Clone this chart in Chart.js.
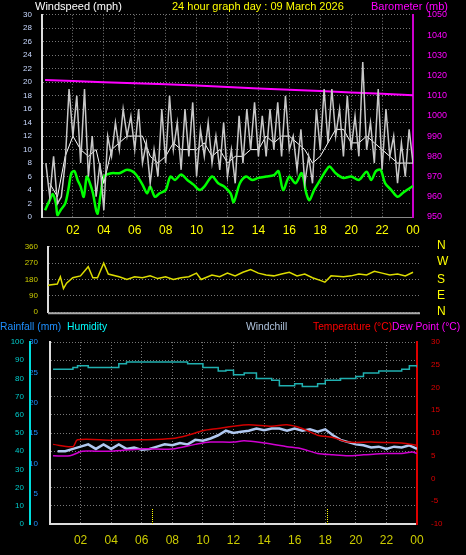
<!DOCTYPE html>
<html><head><meta charset="utf-8">
<script src="https://cdn.jsdelivr.net/npm/chart.js@4.4.1/dist/chart.umd.min.js"></script>
<style>
body{margin:0;background:#000;width:466px;height:555px;overflow:hidden;position:relative;font-family:"Liberation Sans",sans-serif}
.t{position:absolute;font-size:11px;white-space:nowrap;line-height:12px;z-index:5}
.b{font-size:10.3px}
.c{position:absolute;left:0;width:466px}
.d{position:absolute;left:437px;font-size:12px;color:#ff0;line-height:14px;z-index:5}
</style></head><body>
<div class="t" style="left:35px;top:0;color:#fff">Windspeed (mph)</div>
<div class="t" style="left:172px;top:0;color:#ff0">24 hour graph day : 09 March 2026</div>
<div class="t" style="left:371px;top:0;color:#f0f">Barometer (mb)</div>
<div class="t b" style="left:0;top:321px;color:#1e90ff">Rainfall (mm)</div>
<div class="t b" style="left:67px;top:321px;color:#0ff">Humidity</div>
<div class="t b" style="left:246px;top:321px;color:#b0c4de">Windchill</div>
<div class="t b" style="left:313px;top:321px;color:#f00">Temperature (°C)</div>
<div class="t b" style="left:392px;top:321px;color:#f0f">Dew Point (°C)</div>
<div class="d" style="top:238px">N</div>
<div class="d" style="top:254px">W</div>
<div class="d" style="top:272px">S</div>
<div class="d" style="top:288px">E</div>
<div class="d" style="top:304px">N</div>
<div class="c" style="top:0;height:245px"><canvas id="c1" width="466" height="245"></canvas></div>
<div class="c" style="top:232px;height:95px"><canvas id="c2" width="430" height="95"></canvas></div>
<div class="c" style="top:330px;height:225px"><canvas id="c3" width="466" height="225"></canvas></div>
<script>
// ---- data ----
const gustTimes = Array.from({length:96},(_,i)=>0.25*(i+1));
const gustMph = [8,3,9,2, 3,8,19,12, 18,8,19,6, 12,3,8,1, 12,9,14,10, 16,12,15,10, 16,8,11,5, 10,6,16,8,
 18,10,14,7, 16,9,17,6, 13,9,14,8, 12,7,14,6, 10,5,15,8, 16,10,17,9, 15,9,16,10, 17,9,18,10,
 12,7,13,5, 9,5,16,10, 19,11,19,12, 16,9,18,10, 15,9,23,10, 14,8,19,7, 16,9,12,5, 11,6,13,8];
const speedTimes = Array.from({length:48},(_,i)=>0.5*(i+1));
const speedMph = [5,3,9,12,10,9,10,5,10,11,12,12,12,9,8,9,11,10,10,10,11,9,10,8,9,9,10,10,12,11,12,12,11,10,8,9,11,13,13,11,11,12,11,10,9,8,8,8];
const avgTimes = [0.2,0.5,0.7,0.9,1.0,1.2,1.5,1.7,1.9,2.1,2.3,2.5,2.7,2.9,3.1,3.3,3.5,3.6,3.8,4.0,4.5,5.0,5.5,6.0,6.5,6.8,7.0,7.3,7.6,8.0,8.3,8.6,9.0,9.4,9.8,10.2,10.5,11.0,11.4,11.8,12.2,12.4,12.8,13.2,13.6,14.0,14.5,15.0,15.3,15.6,16.0,16.4,16.8,17.1,17.3,17.6,18.0,18.4,18.6,19.0,19.5,20.0,20.5,21.0,21.3,21.6,21.9,22.2,22.6,23.0,23.3,23.6,24];
const avgMph = [1,2.5,3.4,2,0.3,1,2,4,6.5,6.8,5.5,4.5,3,6,5,3.5,1,0.5,3.5,6,6.5,6.5,7,6.5,4.8,3.5,4.5,3,3.5,4,6,5.5,6.3,5.5,4.8,4,4.5,6,5,4.5,3.5,2.2,5,6,5.5,5.8,6,6.2,6.8,4,6,5,6.5,3.5,2.5,4,5.5,7,7.5,6.5,5.8,6,5.5,6.7,5.5,6.8,7,5,4,3,3.5,4,4.6];
const baroTimes = [0.2,2,4,6,8,10,12,14,16,18,20,22,24];
const baroMb = [1017.7,1017.2,1016.6,1016.1,1015.6,1015.0,1014.3,1013.6,1012.9,1012.3,1011.6,1010.9,1010.2];
const dirTimes = [0.4,0.5,1.0,1.2,1.4,1.6,2,2.5,3.0,3.3,3.6,4.0,4.3,5,5.5,6,6.5,7,7.5,8,8.5,9,9.5,10,10.3,11,11.5,12,12.5,13,13.5,14,14.5,15,15.5,16,16.5,17,17.5,18,18.3,18.7,19.5,20,20.5,21,21.5,22,22.5,23,23.5,24];
const dirDeg = [145,150,155,195,130,160,190,200,250,190,190,270,210,195,180,195,190,200,185,195,180,190,195,215,180,205,195,215,200,220,235,215,205,200,210,220,200,210,190,175,165,200,195,200,210,205,225,215,205,210,200,220];
const humTimes = [0.2,1.5,1.8,2.5,4,4.5,5,8.5,9,10,11,11.5,12,12.7,13.5,14.5,15,16,16.5,17.5,18,19,20,20.5,21.5,23,23.5,24];
const humPct = [85,86,87,86,86,88,89,89,88,86,84,84.5,82,83,80,79,76,77,75.5,77,79,80,81,83,84,85,87,86];
const tempTimes = [0.2,1.5,1.8,4,6,8,9,10,11,12,13,14.5,15.5,16.5,17.5,18.5,19.5,21,23,24];
const tempC = [7.5,7,8.5,8.4,8.5,8.8,9.5,10.5,11,11.5,11.8,11.5,11.8,11,9.5,9,8,8,7.8,7.3];
const dewTimes = [0.2,1.3,2.1,3,4,6,8,9.5,10.5,12,12.7,14,15.5,16.5,17.5,18.5,19.5,20.5,22,23,23.7,24];
const dewC = [5,5,6,6,6,6.5,6.5,7.5,8,8,8.3,7.8,7,6.5,5.5,5.2,5,5.2,5.5,5.5,5.8,5.5];
const chillTimes = Array.from({length:48},(_,i)=>0.5*(i+1));
const chillC = [6,6,6.5,7,7.5,6.5,7.5,6.5,7.5,6.5,6.8,6.3,6.5,7,7.5,7.3,7.8,7.5,8.5,8.3,8.8,9.5,10.5,10,10.3,10.5,11,10.6,11,11,10.5,11,10.5,10.8,10.3,10.8,9.5,8.5,8,7.5,7.3,6.8,7,6.5,7,6.8,7.3,6.5];
const rainTimes = [0.2,24];
const rainMm = [0,0];
const sunTimes = [6.7,18.1];
const hourLabels = ['00','02','04','06','08','10','12','14','16','18','20','22','00'];

const pts=(t,v)=>t.map((x,i)=>({x,y:v[i]}));
const FONT='"Liberation Sans", sans-serif';
const grid={color:'#777',lineWidth:1,drawTicks:false};
const hourTick=v=> (v%2===0 && v>0) ? hourLabels[v/2] : '';
function fixW(w){return s=>{s.width=w;};}
function fixH(h){return s=>{s.height=h;};}
const base={responsive:false,animation:false,devicePixelRatio:1,
  plugins:{legend:{display:false},tooltip:{enabled:false}},
  elements:{point:{radius:0},line:{tension:0,borderWidth:1}}, layout:{padding:0}};

new Chart(document.getElementById('c1'),{type:'line',
 data:{datasets:[
  {data:pts(gustTimes,gustMph),borderColor:'#c8c8c8',yAxisID:'y',borderWidth:1.5},
  {data:pts(speedTimes,speedMph),borderColor:'#ffffff',yAxisID:'y'},
  {data:pts(avgTimes,avgMph),borderColor:'#00ff00',borderWidth:2.5,yAxisID:'y',tension:0.3},
  {data:pts(baroTimes,baroMb),borderColor:'#ff00ff',borderWidth:2,yAxisID:'yb'}]},
 options:{...base,layout:{padding:{top:12}},
  scales:{
   x:{type:'linear',min:0,max:24,afterFit:fixH(28),grid:{...grid},border:{color:'#888',dash:[1,2]},
      ticks:{stepSize:2,autoSkip:false,callback:hourTick,color:'#ff0',font:{family:FONT,size:12},padding:6,maxRotation:0}},
   y:{position:'left',min:0,max:30,afterFit:fixW(42),grid:{...grid},border:{color:'#ddd',width:2,dash:[1,2]},
      ticks:{stepSize:2,autoSkip:false,color:'#c8d8ff',font:{family:FONT,size:8},padding:10}},
   yb:{position:'right',min:950,max:1050,afterFit:fixW(53),grid:{display:false},border:{color:'#c0c',width:2},
      ticks:{stepSize:10,autoSkip:false,color:'#f0f',font:{family:FONT,size:9},padding:6,callback:v=>String(v)}}}}});

new Chart(document.getElementById('c2'),{type:'line',
 data:{datasets:[{data:pts(dirTimes,dirDeg),borderColor:'#dddd00',borderWidth:1.5}]},
 options:{...base,layout:{padding:{top:6,right:10,bottom:9}},
  scales:{
   x:{type:'linear',min:0.4,max:24.45,display:false},
   y:{position:'left',min:0,max:360,afterFit:fixW(48),grid:{...grid},border:{color:'#ddd',width:2,dash:[1,2]},
      ticks:{stepSize:90,autoSkip:false,color:'#cc0',font:{family:FONT,size:8},padding:10}}}},
 plugins:[{id:'bline',afterDatasetsDraw(ch){const a=ch.chartArea,c=ch.ctx;c.save();c.strokeStyle='#aaa';c.lineWidth=2;c.beginPath();c.moveTo(a.left,a.bottom+1);c.lineTo(a.right,a.bottom+1);c.stroke();c.restore();}}]});

const sunPlugin={id:'sun',afterDatasetsDraw(ch){const c=ch.ctx,x=ch.scales.x,y=ch.scales.h;
 c.save();c.strokeStyle='#ff0';c.setLineDash([1,1]);c.lineWidth=1;
 sunTimes.forEach(t=>{const px=Math.round(x.getPixelForValue(t))+0.5;c.beginPath();c.moveTo(px,y.getPixelForValue(0));c.lineTo(px,y.getPixelForValue(8.5));c.stroke();});
 c.restore();}};

new Chart(document.getElementById('c3'),{type:'line',plugins:[sunPlugin],
 data:{datasets:[
  {data:pts(humTimes,humPct),borderColor:'#20b0b0',borderWidth:1.5,yAxisID:'h',stepped:true},
  {data:pts(tempTimes,tempC),borderColor:'#d00000',borderWidth:1.5,yAxisID:'t',tension:0.3},
  {data:pts(dewTimes,dewC),borderColor:'#d000d0',borderWidth:1.5,yAxisID:'t',tension:0.3},
  {data:pts(chillTimes,chillC),borderColor:'#b0c8f0',borderWidth:2.5,yAxisID:'t'},
  {data:pts(rainTimes,rainMm),borderColor:'#1060d0',borderWidth:2,yAxisID:'r'}]},
 options:{...base,layout:{padding:{top:12}},
  scales:{
   x:{type:'linear',min:0,max:24,afterFit:fixH(31),grid:{...grid},border:{color:'#ddd',width:2,dash:[1,2]},
      ticks:{stepSize:2,autoSkip:false,callback:hourTick,color:'#cc0',font:{family:FONT,size:12},padding:9,maxRotation:0}},
   r:{position:'left',weight:1,min:0,max:30,afterFit:fixW(20),grid:{display:false},border:{color:'#ddd',width:2},
      ticks:{stepSize:5,autoSkip:false,color:'#1e90ff',font:{family:FONT,size:8},padding:4}},
   h:{position:'left',weight:2,min:0,max:100,afterFit:fixW(30),grid:{...grid},border:{color:'#0dd',width:2,dash:[1,2]},
      ticks:{stepSize:10,autoSkip:false,color:'#0cc',font:{family:FONT,size:8},padding:6}},
   t:{position:'right',min:-10,max:30,afterFit:fixW(49),grid:{display:false},border:{color:'#d00',width:2},
      ticks:{stepSize:5,autoSkip:false,color:'#d00',font:{family:FONT,size:8},padding:6}}}}});
</script></body></html>
